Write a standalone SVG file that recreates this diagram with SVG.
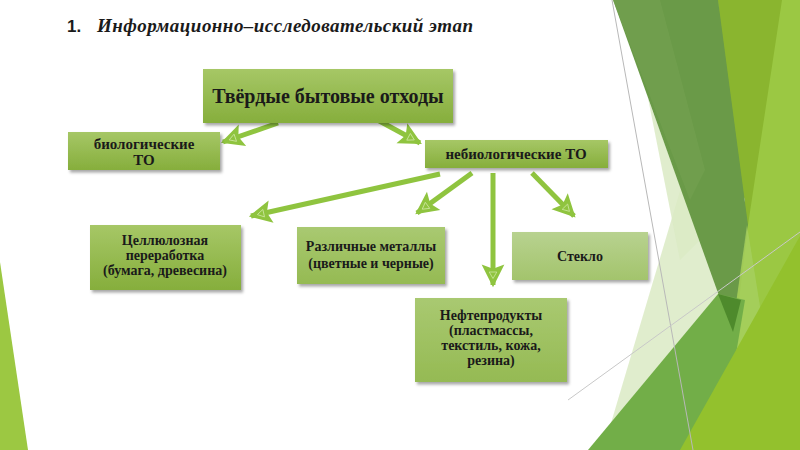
<svg xmlns="http://www.w3.org/2000/svg" width="800" height="450" viewBox="0 0 800 450">
<defs>
<style>
.box{filter:url(#sh)}
.t{font-family:"Liberation Serif","DejaVu Serif","Times New Roman",serif;font-weight:bold;fill:#1a1a1a;text-anchor:middle}
.ar{stroke:#8fc43f;stroke-width:5;fill:none;marker-end:url(#ah)}
</style>
<filter id="sh" x="-10%" y="-10%" width="130%" height="140%">
<feDropShadow dx="2" dy="2.5" stdDeviation="1.5" flood-color="#000" flood-opacity="0.35"/>
</filter>
<linearGradient id="g1" x1="0" y1="0" x2="0" y2="1">
<stop offset="0" stop-color="#a6c766"/><stop offset="1" stop-color="#86ae3c"/>
</linearGradient>
<linearGradient id="g2" x1="0" y1="0" x2="0" y2="1">
<stop offset="0" stop-color="#b8d290"/><stop offset="1" stop-color="#a3c46c"/>
</linearGradient>
<linearGradient id="g3" x1="0" y1="0" x2="0" y2="1">
<stop offset="0" stop-color="#a9c971"/><stop offset="1" stop-color="#95ba53"/>
</linearGradient>
<marker id="ah" markerUnits="userSpaceOnUse" markerWidth="26" markerHeight="26" viewBox="0 0 24 24" refX="20" refY="12" orient="auto">
<path d="M1,1.5 L22,12 L1,22.5 L5,12 Z" fill="#8fc43f"/>
<path d="M8,8.5 L14,12 L8,15.5 Z" fill="none" stroke="#c9e49a" stroke-width="0.8"/>
</marker>
</defs>
<rect width="800" height="450" fill="#ffffff"/>
<g id="background">
<polygon points="0,262 0,450 28,450" fill="#9cc842"/>
<polygon points="718,0 800,0 800,450 700,450 733,332" fill="#9bc843"/>
<polygon points="718,0 782,0 748,225 735,335" fill="#8ab52f"/>
<polygon points="603,450 707,100 745,200 733,332 690,450" fill="#dbeac4" opacity="0.85"/>
<polygon points="648,98 700,240 680,260" fill="#dbeac4" opacity="0.85"/>
<polygon points="613,0 718,0 748,225 732,332" fill="#6a9a48"/>
<polygon points="613,0 660,0 705,170 690,200" fill="#74a252" opacity="0.6"/>
<polygon points="747,225 763,325 740,450 725,450 732,332" fill="#a6cf60" opacity="0.8"/>
<polygon points="588,450 718,294 745,300 720,450" fill="#72ae48"/>
<polygon points="718,294 733,332 741,300" fill="#4e8a2c"/>
<polygon points="680,450 800,236 800,450" fill="#93c12d"/>
<line x1="612" y1="0" x2="693" y2="450" stroke="#b8b8b8" stroke-width="1"/>
<line x1="568" y1="400" x2="800" y2="232" stroke="#c8c8c8" stroke-width="1"/>
</g>
<g id="title">
<text x="67" y="32" font-family="'Liberation Sans','DejaVu Sans',Arial,sans-serif" font-weight="bold" font-size="17" fill="#1a1a1a">1.</text>
<text x="97" y="32" font-family="'Liberation Serif','DejaVu Serif','Times New Roman',serif" font-weight="bold" font-style="italic" font-size="19" fill="#1a1a1a" textLength="376" lengthAdjust="spacing">Информационно–исследовательский этап</text>
</g>
<g id="connectors">
<line class="ar" x1="278" y1="123" x2="223" y2="142"/>
<line class="ar" x1="372" y1="117" x2="420" y2="143"/>
<line class="ar" x1="440" y1="174" x2="251" y2="216"/>
<line class="ar" x1="472" y1="173" x2="417" y2="213"/>
<line class="ar" x1="493" y1="173" x2="493" y2="285"/>
<line class="ar" x1="532" y1="173" x2="574" y2="216"/>
</g>
<g id="node-tbo">
<rect class="box" x="203" y="69" width="250" height="54" fill="url(#g1)"/>
<text class="t" x="328" y="103" font-size="20">Твёрдые бытовые отходы</text>
</g>
<g id="node-bio">
<rect class="box" x="68" y="132" width="152" height="38" fill="url(#g1)"/>
<text class="t" x="144" y="149" font-size="15">биологические</text>
<text class="t" x="144" y="165" font-size="15">ТО</text>
</g>
<g id="node-nebio">
<rect class="box" x="425" y="140" width="183" height="28" fill="url(#g1)"/>
<text class="t" x="516" y="159" font-size="15">небиологические ТО</text>
</g>
<g id="node-cell">
<rect class="box" x="90" y="225" width="151" height="65" fill="url(#g1)"/>
<text class="t" x="165" y="245" font-size="14">Целлюлозная</text>
<text class="t" x="165" y="260" font-size="14">переработка</text>
<text class="t" x="165" y="275" font-size="14">(бумага, древесина)</text>
</g>
<g id="node-metal">
<rect class="box" x="297" y="227" width="148" height="57" fill="url(#g3)"/>
<text class="t" x="371" y="251" font-size="14">Различные металлы</text>
<text class="t" x="371" y="268" font-size="14">(цветные и черные)</text>
</g>
<g id="node-glass">
<rect class="box" x="512" y="232" width="136" height="48" fill="url(#g2)"/>
<text class="t" x="580" y="261" font-size="14">Стекло</text>
</g>
<g id="node-oil">
<rect class="box" x="415" y="298" width="152" height="84" fill="url(#g3)"/>
<text class="t" x="491" y="320" font-size="14">Нефтепродукты</text>
<text class="t" x="491" y="335" font-size="14">(пластмассы,</text>
<text class="t" x="491" y="350" font-size="14">текстиль, кожа,</text>
<text class="t" x="491" y="365" font-size="14">резина)</text>
</g>
</svg>
